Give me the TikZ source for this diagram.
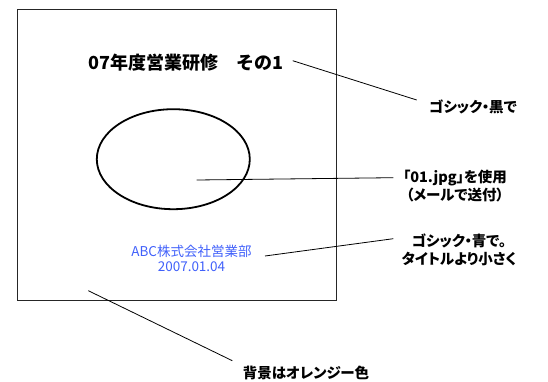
\documentclass[tikz,border=0pt]{standalone}
\usepackage{fontspec}
\usetikzlibrary{shapes.geometric}
\setmainfont{Noto Sans CJK JP}
\newfontfamily\paltfont[RawFeature=+palt]{Noto Sans CJK JP}
\definecolor{subblue}{RGB}{64,96,250}
\tikzset{
  lbl/.style={font=\paltfont\bfseries\fontsize{14.5}{17.5}\selectfont, align=center, inner sep=0pt},
  lead/.style={draw=black, line width=0.8pt},
}
\begin{document}
\begin{tikzpicture}[x=1pt,y=-1pt]
\useasboundingbox (0,0) rectangle (548,382);
\draw[line width=1pt, draw=black!85] (17.5,10) rectangle (336,300);
\node[font=\bfseries\fontsize{18}{20}\selectfont, inner sep=0pt] (title) at (186,63) {07年度営業研修　その1};
\node[draw, line width=1.8pt, ellipse, minimum width=153pt, minimum height=100pt, inner sep=0pt] (img) at (173.3,159.2) {};
\node[font=\paltfont\fontsize{13.5}{16}\selectfont, text=subblue, align=center, inner sep=0pt] (sub) at (191.5,258.5) {ABC株式会社営業部\\[-0.5pt]2007.01.04};
\node[lbl] (l1) at (473,107) {ゴシック・黒で};
\node[lbl] (l2) at (455,186) {「01.jpg」を使用\\（メールで送付）};
\node[lbl] (l3) at (459,250) {ゴシック・青で。\\タイトルより小さく};
\node[lbl] (l4) at (306,373) {背景はオレンジー色};
\coordinate (a1) at (292.7,60.7);
\coordinate (b1) at (416.7,100);
\coordinate (a2) at (196.7,180);
\coordinate (b2) at (393.3,177.7);
\coordinate (a3) at (265,256);
\coordinate (b3) at (393.3,238.7);
\coordinate (a4) at (88.3,290.7);
\coordinate (b4) at (232.3,360.7);
\draw[lead] (a1) -- (b1);
\draw[lead] (a2) -- (b2);
\draw[lead] (a3) -- (b3);
\draw[lead] (a4) -- (b4);
\end{tikzpicture}
\end{document}
